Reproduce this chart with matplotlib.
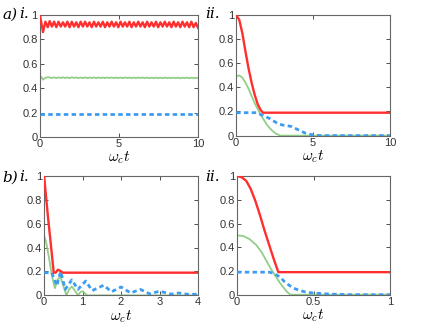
"""Four-panel population dynamics figure (a/b, i/ii) in the old matlab look."""
import numpy as np
import matplotlib
matplotlib.use("Agg")
import matplotlib.pyplot as plt

plt.rcParams["font.family"] = ["Liberation Sans", "DejaVu Sans"]
plt.rcParams["mathtext.fontset"] = "cm"

RED = "#ff2f2f"
GREEN = "#86c97a"
BLUE = "#3d9cf0"

# ---- a) i. : red oscillates around 0.92, green ~0.485, blue flat 0.19
a1_red_t = [0, 0.1, 0.2, 0.35, 0.5,
            0.62, 0.76, 0.90, 1.04, 1.18, 1.32, 1.46, 1.60, 1.74, 1.88, 2.02, 2.16,
            2.30, 2.44, 2.58, 2.72, 2.86, 3.00, 3.14, 3.28, 3.42, 3.56, 3.70, 3.84,
            3.98, 4.12, 4.26, 4.40, 4.54, 4.68, 4.82, 4.96, 5.10, 5.24, 5.38, 5.52,
            5.66, 5.80, 5.94, 6.08, 6.22, 6.36, 6.50, 6.64, 6.78, 6.92, 7.06, 7.20,
            7.34, 7.48, 7.62, 7.76, 7.90, 8.04, 8.18, 8.32, 8.46, 8.60, 8.74, 8.88,
            9.02, 9.16, 9.30, 9.44, 9.58, 9.72, 9.86, 10.0]
a1_red = [1.0, 0.93, 0.86, 0.945, 0.90,
          0.95, 0.905, 0.945, 0.90, 0.945, 0.905, 0.94, 0.905, 0.945, 0.90, 0.945, 0.905,
          0.94, 0.90, 0.945, 0.905, 0.945, 0.905, 0.94, 0.90, 0.945, 0.905, 0.94, 0.905,
          0.945, 0.90, 0.94, 0.905, 0.945, 0.905, 0.94, 0.90, 0.945, 0.905, 0.94, 0.905,
          0.945, 0.90, 0.94, 0.905, 0.945, 0.905, 0.94, 0.90, 0.945, 0.905, 0.94, 0.905,
          0.945, 0.90, 0.94, 0.905, 0.945, 0.905, 0.94, 0.90, 0.945, 0.905, 0.94, 0.90,
          0.945, 0.905, 0.94, 0.90, 0.945, 0.90, 0.935, 0.895]
a1_green = [0.5, 0.49, 0.47, 0.485, 0.49,
            0.488, 0.483, 0.489, 0.482, 0.488, 0.484, 0.489, 0.483, 0.488, 0.482, 0.489, 0.484,
            0.488, 0.482, 0.487, 0.483, 0.488, 0.482, 0.487, 0.483, 0.488, 0.482, 0.487, 0.483,
            0.487, 0.482, 0.488, 0.483, 0.487, 0.482, 0.487, 0.483, 0.487, 0.482, 0.487, 0.483,
            0.487, 0.482, 0.487, 0.482, 0.487, 0.483, 0.487, 0.482, 0.487, 0.482, 0.486, 0.482,
            0.487, 0.482, 0.486, 0.482, 0.487, 0.482, 0.486, 0.482, 0.486, 0.482, 0.486, 0.481,
            0.486, 0.482, 0.486, 0.481, 0.486, 0.482, 0.485, 0.481]
a1_blue_t = [0, 10]
a1_blue = [0.19, 0.19]

# ---- a) ii.
a2_red_t = [0, 0.2, 0.4, 0.6, 0.8, 1.0, 1.2, 1.4, 1.6, 1.75, 10]
a2_red = [1.0, 0.96, 0.85, 0.70, 0.56, 0.44, 0.34, 0.26, 0.21, 0.19, 0.19]
a2_green_t = [0, 0.2, 0.4, 0.6, 0.8, 1.0, 1.2, 1.4, 1.6, 1.8, 2.0, 2.2, 2.4, 2.6,
              2.8, 2.9, 10]
a2_green = [0.49, 0.50, 0.48, 0.44, 0.39, 0.33, 0.27, 0.22, 0.17, 0.13, 0.09, 0.06,
            0.035, 0.015, 0.004, 0.0, 0.0]
a2_blue_t = [0, 1.3, 1.7, 2.2, 2.7, 3.0, 3.3, 3.6, 4.0, 4.5, 5.0, 5.5, 10]
a2_blue = [0.19, 0.19, 0.17, 0.14, 0.10, 0.088, 0.083, 0.075, 0.05, 0.02, 0.005, 0.0, 0.0]

# ---- b) i.
b1_red_t = [0, 0.1, 0.2, 0.25, 0.3, 0.36, 0.42, 0.49, 4]
b1_red = [1.0, 0.66, 0.35, 0.19, 0.19, 0.215, 0.205, 0.19, 0.19]
b1_green_t = [0, 0.05, 0.13, 0.2, 0.28, 0.35, 0.42, 0.5, 0.58, 0.65, 0.72, 0.8, 0.88,
              0.95, 1.0, 1.05, 1.12, 1.3, 4]
b1_green = [0.5, 0.45, 0.31, 0.17, 0.06, 0.13, 0.16, 0.08, 0.0, 0.05, 0.075, 0.04, 0.0,
            0.03, 0.035, 0.02, 0.0, 0.0, 0.0]
b1_blue_t = [0, 0.2, 0.33, 0.43, 0.55, 0.72, 0.88, 1.08, 1.25, 1.55, 1.75, 2.0, 2.25,
             2.5, 2.75, 3.0, 3.3, 3.5, 3.75, 4]
b1_blue = [0.19, 0.19, 0.08, 0.2, 0.05, 0.13, 0.05, 0.12, 0.04, 0.085, 0.03, 0.07, 0.02,
           0.05, 0.012, 0.035, 0.01, 0.02, 0.008, 0.01]

# ---- b) ii.
b2_red_t = [0, 0.03, 0.06, 0.09, 0.12, 0.15, 0.18, 0.21, 0.24, 0.27, 1]
b2_red = [1.0, 0.99, 0.96, 0.89, 0.79, 0.67, 0.54, 0.42, 0.30, 0.19, 0.19]
b2_green_t = [0, 0.04, 0.08, 0.125, 0.16, 0.19, 0.22, 0.255, 0.28, 0.31, 0.33, 0.35, 1]
b2_green = [0.5, 0.495, 0.47, 0.42, 0.36, 0.29, 0.22, 0.15, 0.10, 0.05, 0.02, 0.0, 0.0]
b2_blue_t = [0, 0.21, 0.24, 0.28, 0.31, 0.34, 0.37, 0.41, 0.45, 0.49, 0.6, 0.75, 1]
b2_blue = [0.19, 0.19, 0.18, 0.15, 0.11, 0.08, 0.055, 0.035, 0.022, 0.015, 0.005, 0.0, 0.0]

yticks = [0, 0.2, 0.4, 0.6, 0.8, 1]
ylabels = ["0", "0.2", "0.4", "0.6", "0.8", "1"]

panels = [
    # rect, xlim, xticks, xticklabels, data
    ([0.094, 0.580, 0.373, 0.374], 10, [0, 5, 10], ["0", "5", "10"],
     (a1_red_t, a1_red, a1_red_t, a1_green, a1_blue_t, a1_blue)),
    ([0.557, 0.584, 0.363, 0.370], 10, [0, 5, 10], ["0", "5", "10"],
     (a2_red_t, a2_red, a2_green_t, a2_green, a2_blue_t, a2_blue)),
    ([0.104, 0.094, 0.363, 0.366], 4, [0, 1, 2, 3, 4], ["0", "1", "2", "3", "4"],
     (b1_red_t, b1_red, b1_green_t, b1_green, b1_blue_t, b1_blue)),
    ([0.559, 0.096, 0.361, 0.364], 1, [0, 0.5, 1], ["0", "0.5", "1"],
     (b2_red_t, b2_red, b2_green_t, b2_green, b2_blue_t, b2_blue)),
]

fig = plt.figure(figsize=(4.24, 3.26), dpi=100)
for rect, xmax, xt, xtl, (rt, ry, gt, gy, bt, by) in panels:
    ax = fig.add_axes(rect)
    ax.plot(gt, gy, color=GREEN, lw=1.3, alpha=0.9, zorder=2)
    ax.plot(bt, by, color=BLUE, lw=2.0, ls=(0, (1.6, 1.2)), zorder=3)
    ax.plot(rt, ry, color=RED, lw=1.7, zorder=4)
    ax.set_xlim(0, xmax)
    ax.set_ylim(0, 1)
    ax.set_xticks(xt, xtl)
    ax.set_yticks(yticks, ylabels)
    ax.tick_params(direction="in", top=True, right=True, length=3, width=0.6,
                   labelsize=8, pad=1.5, colors="#333333")
    for s in ax.spines.values():
        s.set_color("#666666")
        s.set_linewidth(0.8)
    ax.set_xlabel(r"$\omega_c t$", fontsize=11, labelpad=0.5)

# panel letters
txt = dict(fontsize=11, family="DejaVu Serif", style="italic")
fig.text(0.005, 0.955, "a)", va="center", **txt)
fig.text(0.045, 0.958, "i.", va="center", **txt)
fig.text(0.484, 0.958, "ii.", va="center", **txt)
fig.text(0.005, 0.455, "b)", va="center", **txt)
fig.text(0.045, 0.458, "i.", va="center", **txt)
fig.text(0.484, 0.458, "ii.", va="center", **txt)

fig.savefig("out.png", dpi=100)
